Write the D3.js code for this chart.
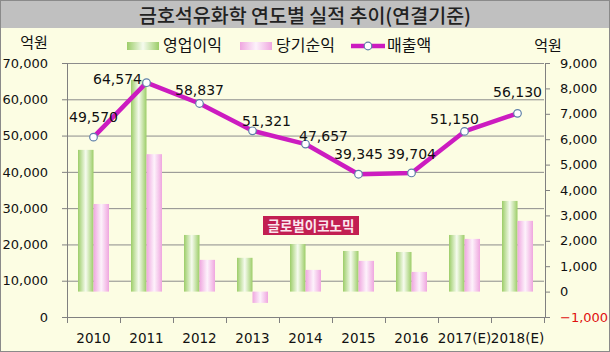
<!DOCTYPE html>
<html><head><meta charset="utf-8">
<script src="https://cdn.jsdelivr.net/npm/d3@7"></script>
<style>body{margin:0;background:#fff}svg{display:block}</style>
</head><body>
<script>
// ---- data ----
const years = ["2010","2011","2012","2013","2014","2015","2016","2017(E)","2018(E)"];
const operatingProfit = [5580, 8335, 2230, 1330, 1870, 1600, 1560, 2230, 3570];
const netIncome = [3450, 5410, 1250, -445, 855, 1210, 775, 2075, 2785];
const revenue = [49570, 64574, 58837, 51321, 47657, 39345, 39704, 51150, 56130];
const leftTicks = [0,10000,20000,30000,40000,50000,60000,70000];
const rightTicks = [-1000,0,1000,2000,3000,4000,5000,6000,7000,8000,9000];
const labelOffsets = [[0,-15],[-29,1],[0,-9],[14,-5],[18,-3],[0,-15],[0,-14],[-10,-7],[0,-16]];

const W=610,H=352;
const svg=d3.select("body").append("svg").attr("width",W).attr("height",H);
const defs=svg.append("defs");
function grad(id,c1,c2){
  const g=defs.append("linearGradient").attr("id",id).attr("x1","0").attr("x2","1").attr("y1","0").attr("y2","0");
  g.append("stop").attr("offset","0").attr("stop-color",c1);
  g.append("stop").attr("offset","0.5").attr("stop-color",c2);
  g.append("stop").attr("offset","1").attr("stop-color",c1);
}
grad("gGreen","#9ccd68","#f6fbee");
grad("gPink","#efa6df","#fdf2fb");

svg.append("rect").attr("width",W).attr("height",H).attr("fill","#fcfde3");
svg.append("rect").attr("width",W).attr("height",28).attr("fill","#c0c0c0");
svg.append("rect").attr("x",0.5).attr("y",0.5).attr("width",W-1).attr("height",H-1).attr("fill","none").attr("stroke","#8a8a8a");

const ff="'DejaVu Sans', Verdana, sans-serif";
const kf="'Noto Sans CJK KR', sans-serif";

svg.append("text").attr("x",305).attr("y",23).attr("text-anchor","middle")
  .attr("font-family",kf).attr("font-size",19.5).attr("font-weight",500).attr("fill","#222")
  .text("금호석유화학 연도별 실적 추이(연결기준)");

const L=67,R=544,T=63,B=317;
const x=d3.scaleBand().domain(years).range([L,R]);
const yL=d3.scaleLinear().domain([0,70000]).range([B,T]);
const yR=d3.scaleLinear().domain([-1000,9000]).range([B,T]);
const x1=d3.scaleBand().domain(["op","ni"]).range([11,42]);

// gridlines
svg.append("g").selectAll("line").data(leftTicks.filter(d=>d>0)).join("line")
  .attr("x1",L).attr("x2",R).attr("y1",d=>yL(d)+0.5).attr("y2",d=>yL(d)+0.5)
  .attr("stroke","#8c8c8c").attr("stroke-width",1);

// bars
const gb=svg.append("g");
years.forEach((yr,i)=>{
  const op=operatingProfit[i], ni=netIncome[i];
  gb.append("rect").attr("x",x(yr)+x1("op")).attr("width",x1.bandwidth())
    .attr("y",yR(Math.max(0,op))).attr("height",Math.abs(yR(op)-yR(0))).attr("fill","url(#gGreen)");
  gb.append("rect").attr("x",x(yr)+x1("ni")).attr("width",x1.bandwidth())
    .attr("y",yR(Math.max(0,ni))).attr("height",Math.abs(yR(ni)-yR(0))).attr("fill","url(#gPink)");
});

// axes
const axL=svg.append("g").attr("transform",`translate(${L},0)`)
  .call(d3.axisLeft(yL).tickValues(leftTicks).tickSize(5).tickPadding(14).tickFormat(d3.format(",")));
const axR=svg.append("g").attr("transform",`translate(${R+1},0)`)
  .call(d3.axisRight(yR).tickValues(rightTicks).tickSize(5).tickPadding(10).tickFormat(d3.format(",")));
const axB=svg.append("g").attr("transform",`translate(0,${B})`)
  .call(d3.axisBottom(x).tickSize(0).tickPadding(16));
[axL,axR,axB].forEach(a=>{
  a.select(".domain").attr("stroke","#808080");
  a.selectAll(".tick line").attr("stroke","#808080");
  a.selectAll("text").attr("font-family",ff).attr("font-size",13).attr("fill","#111");
});
axB.selectAll("text").attr("font-size",13.5);
axR.selectAll(".tick text").attr("fill",d=>d<0?"#e01010":"#111");
axB.select(".domain").attr("d",`M${L},0.5H${R+1}`);
// category boundary ticks
svg.append("g").selectAll("line").data(years.concat(["end"])).join("line")
  .attr("x1",(d,i)=>L+i*x.bandwidth()+0.5).attr("x2",(d,i)=>L+i*x.bandwidth()+0.5)
  .attr("y1",B).attr("y2",B+6).attr("stroke","#808080");

// line
const line=d3.line().x((d,i)=>x(years[i])+x.bandwidth()/2).y(d=>yL(d));
svg.append("path").attr("d",line(revenue)).attr("fill","none")
  .attr("stroke","#cc1cc0").attr("stroke-width",4.5).attr("stroke-linejoin","round");
svg.append("g").selectAll("circle").data(revenue).join("circle")
  .attr("cx",(d,i)=>x(years[i])+x.bandwidth()/2).attr("cy",d=>yL(d)).attr("r",3.8)
  .attr("fill","#fff").attr("stroke","#5f80a8").attr("stroke-width",1.2);
svg.append("g").selectAll("text").data(revenue).join("text")
  .attr("x",(d,i)=>x(years[i])+x.bandwidth()/2+labelOffsets[i][0])
  .attr("y",(d,i)=>yL(d)+labelOffsets[i][1])
  .attr("text-anchor","middle").attr("font-family",ff).attr("font-size",14).attr("fill","#111")
  .text(d=>d3.format(",")(d));

// units
svg.append("text").attr("x",34).attr("y",48).attr("text-anchor","middle").attr("font-family",kf).attr("font-size",15).attr("fill","#111").text("억원");
svg.append("text").attr("x",548).attr("y",51).attr("text-anchor","middle").attr("font-family",kf).attr("font-size",15).attr("fill","#111").text("억원");

// legend
const lg=svg.append("g");
lg.append("rect").attr("x",127).attr("y",42).attr("width",32).attr("height",8).attr("fill","url(#gGreen)");
lg.append("text").attr("x",163).attr("y",51).attr("font-family",kf).attr("font-size",16).attr("fill","#111").text("영업이익");
lg.append("rect").attr("x",240).attr("y",42).attr("width",32).attr("height",8).attr("fill","url(#gPink)");
lg.append("text").attr("x",276).attr("y",51).attr("font-family",kf).attr("font-size",16).attr("fill","#111").text("당기순익");
lg.append("line").attr("x1",351).attr("x2",385).attr("y1",46).attr("y2",46).attr("stroke","#cc1cc0").attr("stroke-width",4.5);
lg.append("circle").attr("cx",368).attr("cy",46).attr("r",3.8).attr("fill","#fff").attr("stroke","#5f80a8").attr("stroke-width",1.2);
lg.append("text").attr("x",387).attr("y",51).attr("font-family",kf).attr("font-size",16).attr("fill","#111").text("매출액");

// watermark
svg.append("rect").attr("x",263).attr("y",216).attr("width",96).attr("height",19).attr("fill","#c21f52");
svg.append("text").attr("x",311).attr("y",231).attr("text-anchor","middle").attr("font-family",kf).attr("font-weight","bold").attr("font-size",13.5).attr("fill","#fbe6ee").text("글로벌이코노믹");
</script>
</body></html>
